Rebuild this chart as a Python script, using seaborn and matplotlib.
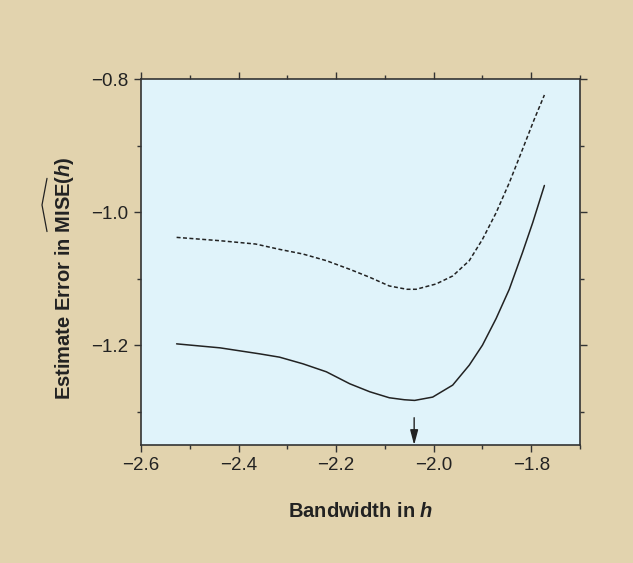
import matplotlib
matplotlib.use("Agg")
import matplotlib.pyplot as plt
import seaborn as sns
from matplotlib.ticker import MultipleLocator
from matplotlib.lines import Line2D

# Data
solid_x = [-2.527, -2.438, -2.357, -2.316, -2.268, -2.220, -2.172, -2.131, -2.091, -2.060,
           -2.039, -2.002, -1.961, -1.927, -1.900, -1.872, -1.845, -1.818, -1.797, -1.773]
solid_y = [-1.198, -1.204, -1.213, -1.218, -1.228, -1.240, -1.258, -1.270, -1.279, -1.282,
           -1.283, -1.278, -1.260, -1.230, -1.200, -1.160, -1.116, -1.061, -1.016, -0.960]

dash_x = [-2.527, -2.438, -2.365, -2.316, -2.268, -2.220, -2.172, -2.131, -2.091, -2.055,
          -2.036, -1.995, -1.961, -1.927, -1.900, -1.872, -1.845, -1.818, -1.794, -1.773]
dash_y = [-1.038, -1.043, -1.048, -1.056, -1.063, -1.073, -1.086, -1.098, -1.111, -1.116,
          -1.116, -1.108, -1.096, -1.073, -1.041, -1.001, -0.956, -0.906, -0.861, -0.824]

arrow_x = -2.04
x_ticks = [-2.6, -2.4, -2.2, -2.0, -1.8]
x_ticklabels = ['\u22122.6', '\u22122.4', '\u22122.2', '\u22122.0', '\u22121.8']
y_ticks = [-0.8, -1.0, -1.2]
y_ticklabels = ['\u22120.8', '\u22121.0', '\u22121.2']

sns.set_theme(style="ticks")
plt.rcParams['font.family'] = ['Liberation Sans', 'DejaVu Sans']
plt.rcParams['mathtext.fontset'] = 'custom'
plt.rcParams['mathtext.rm'] = 'Liberation Sans:bold'
plt.rcParams['mathtext.bf'] = 'Liberation Sans:bold'
plt.rcParams['mathtext.it'] = 'Liberation Sans:bold:italic'

tan = '#E2D3AE'
blue = '#E0F3FA'
ink = '#222222'

fig = plt.figure(figsize=(6.33, 5.63), dpi=100, facecolor=tan)
ax = fig.add_axes([141/633, 1-445/563, (580-141)/633, (445-79)/563])
ax.set_facecolor(blue)

sns.lineplot(x=solid_x, y=solid_y, ax=ax, color=ink, lw=1.1, sort=False)
sns.lineplot(x=dash_x, y=dash_y, ax=ax, color=ink, lw=1.1, sort=False)
ax.lines[1].set_dashes([2.6, 1.6])
for ln in ax.lines:
    ln.set_solid_joinstyle('round')
    ln.set_dash_joinstyle('round')

ax.annotate('', xy=(arrow_x, -1.35), xytext=(arrow_x, -1.309),
            arrowprops=dict(arrowstyle='-|>,head_length=0.75,head_width=0.2',
                            color=ink, lw=1.0, shrinkA=0, shrinkB=0))

ax.set_xlim(-2.6, -1.7)
ax.set_ylim(-1.35, -0.8)
ax.set_xticks(x_ticks)
ax.set_yticks(y_ticks)
ax.set_xticklabels(x_ticklabels)
ax.set_yticklabels(y_ticklabels)
ax.xaxis.set_minor_locator(MultipleLocator(0.1))
ax.yaxis.set_minor_locator(MultipleLocator(0.1))
ax.tick_params(which='both', direction='out', top=True, right=True,
               color='#333333', width=1.0, labelsize=13.5, labelcolor=ink)
ax.tick_params(which='major', length=5, pad=4)
ax.tick_params(which='minor', length=3)

for s in ax.spines.values():
    s.set_visible(True)
    s.set_color('#333333')
    s.set_linewidth(1.2)

label_kw = dict(fontsize=14.5, fontweight='bold', color=ink)
ax.set_xlabel(r'Bandwidth in $h$', labelpad=20, **label_kw)
ax.set_ylabel(r'Estimate Error in MISE($h$)', **label_kw)
ax.yaxis.set_label_coords(-(141 - 76) / 439, 0.455)

# Wide hat over "MISE" in the y label
fig.canvas.draw()
r = fig.canvas.get_renderer()
bb = ax.yaxis.label.get_window_extent(r)
tmp_full = fig.text(0, 0, r'MISE($h$)', **label_kw)
tmp_m = fig.text(0, 0, 'MISE', **label_kw)
w_full = tmp_full.get_window_extent(r).width
w_m = tmp_m.get_window_extent(r).width
tmp_full.remove()
tmp_m.remove()
y_start = bb.y1 - w_full + 1
y_end = y_start + w_m * 1.08
x_base = bb.x0 - 6
x_apex = bb.x0 - 11
W, H = fig.bbox.width, fig.bbox.height
hat = Line2D([x_base / W, x_apex / W, x_base / W],
             [y_start / H, (y_start + y_end) / 2 / H, y_end / H],
             transform=fig.transFigure, color=ink, lw=0.9)
fig.add_artist(hat)

fig.savefig('out.png', dpi=100, facecolor=tan)
